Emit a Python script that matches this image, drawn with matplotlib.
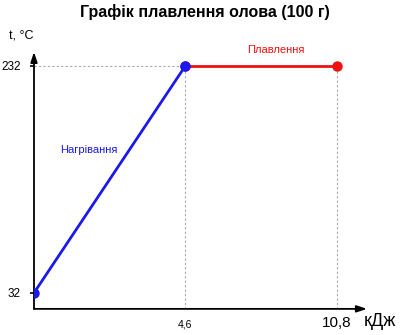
import matplotlib
matplotlib.use('Agg')
import matplotlib.pyplot as plt
import numpy as np

plt.rcParams['font.family'] = ['Liberation Sans', 'DejaVu Sans']

# data
heat_q = [0, 4.6]          # кДж
heat_t = [32, 232]         # °C
melt_q = [4.6, 10.8]
melt_t = [232, 232]
xtick_vals = [4.6, 10.8]
xtick_labels = ['4,6', '10,8']
ytick_vals = [32, 232]
ytick_labels = ['32', '232']


# schematic (piecewise) x scale: equal spacing between 0, 4.6, 10.8
def fwd(x):
    x = np.asarray(x, dtype=float)
    return np.where(x <= 4.6, x / 4.6, 1 + (x - 4.6) / 6.2)


def inv(u):
    u = np.asarray(u, dtype=float)
    return np.where(u <= 1, u * 4.6, 4.6 + (u - 1) * 6.2)


fig = plt.figure(figsize=(4.0, 3.35), dpi=100)
ax = fig.add_axes([0.085, 0.078, 0.8325, 0.767])
ax.set_xscale('function', functions=(fwd, inv))
ax.set_xlim(0, 12.04)
ax.set_ylim(17.9, 244.3)

for s in ax.spines.values():
    s.set_visible(False)

# axes with arrows
arrow = dict(arrowstyle='-|>,head_length=0.6,head_width=0.2',
             color='black', lw=1.3, shrinkA=0, shrinkB=0)
ax.annotate('', xy=(1, 0), xytext=(0, 0), xycoords='axes fraction',
            textcoords='axes fraction', arrowprops=arrow)
ax.annotate('', xy=(0, 1), xytext=(0, 0), xycoords='axes fraction',
            textcoords='axes fraction', arrowprops=arrow)

# guide lines
ax.plot([0, heat_q[1]], [heat_t[1], heat_t[1]], ls=(0, (2, 2)), color='#aaaaaa', lw=0.8)
for q in xtick_vals:
    ax.plot([q, q], [17.9, 232], ls=(0, (2, 2)), color='#aaaaaa', lw=0.8)

ax.plot(melt_q, melt_t, color='#ee1111', lw=2, marker='o', ms=6.5, zorder=3)
ax.plot(heat_q, heat_t, color='#1a1aee', lw=2, marker='o', ms=6.5, zorder=4)

ax.text(1.67, 158, 'Нагрівання', color='#1a1aee', fontsize=8, ha='center', va='center')
ax.text(8.3, 246, 'Плавлення', color='#ee1111', fontsize=8, ha='center', va='center',
        clip_on=False)

# 4,6 as major tick (small), 10,8 as minor tick (larger)
ax.set_xticks([xtick_vals[0]])
ax.set_xticklabels([xtick_labels[0]], fontsize=7.5)
ax.set_xticks([xtick_vals[1]], minor=True)
ax.set_xticklabels([xtick_labels[1]], minor=True, fontsize=11)
ax.tick_params(axis='x', which='major', length=0, pad=7.5)
ax.tick_params(axis='x', which='minor', length=0, pad=5)
ax.set_yticks(ytick_vals)
ax.set_yticklabels(ytick_labels, fontsize=8.5)
ax.tick_params(axis='y', length=3, width=1.2, pad=6.5)

fig.text(380 / 400, 1 - 322 / 335, 'кДж', fontsize=13, ha='center', va='center')
fig.text(21 / 400, 1 - 36 / 335, 't, °C', fontsize=9, ha='center', va='center')
fig.text(205 / 400, 1 - 12 / 335, 'Графік плавлення олова (100 г)', fontsize=11.5,
         fontweight='bold', ha='center', va='center')

fig.savefig('out.png', dpi=100)
